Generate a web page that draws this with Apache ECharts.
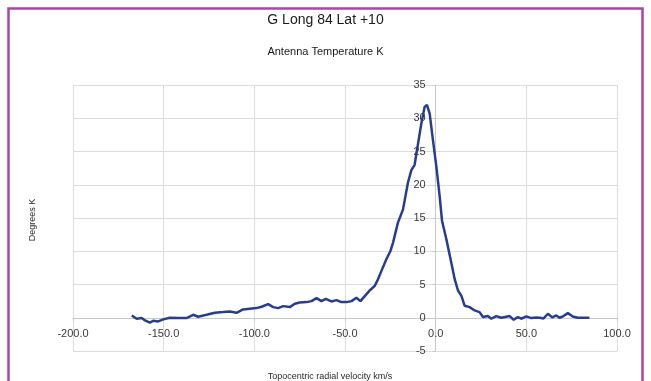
<!DOCTYPE html>
<html><head><meta charset="utf-8">
<script src="https://cdn.jsdelivr.net/npm/echarts@6/dist/echarts.min.js"></script>
<style>html,body{margin:0;padding:0;background:#fff}#c{width:651px;height:381px}</style>
</head><body><div id="c"></div>
<script>
const titleText = "G Long 84 Lat +10";
const subtitleText = "Antenna Temperature K";
const xAxisTitle = "Topocentric radial velocity km/s";
const yAxisTitle = "Degrees K";
const xTicks = [-200, -150, -100, -50, 0, 50, 100];
const yTicks = [-5, 0, 5, 10, 15, 20, 25, 30, 35];

const velocity = [-167.6,-164.9,-162.1,-160.3,-157.6,-155.8,-153,-150.2,-146.6,-142,-137.4,-133.7,-131,-126.3,-121.8,-117.2,-113.5,-109.8,-106.2,-102.5,-98.8,-96,-92.4,-89.6,-86.9,-84.1,-80.4,-77.7,-75,-71.2,-68.5,-65.7,-63,-60.6,-57.5,-54.7,-52,-49.2,-46.4,-43.7,-41.5,-39.1,-36.4,-33.6,-31.8,-29.9,-27.2,-25,-23.5,-20.8,-18,-15.3,-13.4,-11.6,-9.7,-7.9,-6.1,-4.8,-3.3,-1.5,0.4,2.2,3.5,5.9,8.6,10.5,12.3,14.2,16,18.7,21.5,24.2,26.1,28.8,30.7,33.4,36.2,38.9,40.8,43,45.3,47.2,50,52.7,55.5,57.3,59.5,61.9,64.3,66.5,68.3,70.5,72.9,75.6,78.4,84.8];
const temperature = [0.35,-0.15,-0.05,-0.4,-0.75,-0.45,-0.55,-0.25,0,-0.05,-0.05,0.45,0.15,0.45,0.75,0.85,0.95,0.75,1.25,1.35,1.45,1.65,2.05,1.6,1.45,1.75,1.6,2.1,2.3,2.35,2.5,2.95,2.5,2.85,2.45,2.65,2.35,2.35,2.5,3.0,2.5,3.25,4.1,4.8,5.8,7.05,8.8,10,11.3,14.3,16.3,20.3,22.2,23,26.2,29.2,31.7,32,30.7,26.7,22.7,18.3,14.6,11.8,8.3,5.8,4.1,3.3,1.8,1.6,1.1,0.85,0.1,0.25,-0.15,0.25,0,0.15,0.25,-0.3,0.1,-0.15,0.2,-0.05,0.05,0,-0.1,0.6,0.05,0.35,0,0.25,0.7,0.2,0,0];

const seriesData = velocity.map((v, i) => [v, temperature[i]]);
const FONT = "'Liberation Sans', Arial, sans-serif";

const W = 651, H = 381;
const gridL = 73, gridR = 34, gridT = 85, gridB = 30;
const gridW = W - gridL - gridR, gridH = H - gridT - gridB;
const xMin = xTicks[0], xMax = xTicks[xTicks.length - 1];
const yMin = yTicks[0], yMax = yTicks[yTicks.length - 1];
// place each axis where the other axis is zero (Excel-style crossing axes)
const xAxisOffset = -((0 - yMin) / (yMax - yMin)) * gridH;
const yAxisOffset = -((0 - xMin) / (xMax - xMin)) * gridW;

const chart = echarts.init(document.getElementById('c'), null, {renderer: 'canvas'});
chart.setOption({
  backgroundColor: '#ffffff',
  animation: false,
  title: [
    {text: titleText, left: 'center', top: 8, textStyle: {fontFamily: FONT, fontSize: 14, fontWeight: 'normal', color: '#1a1a1a'}},
    {text: subtitleText, left: 'center', top: 41, textStyle: {fontFamily: FONT, fontSize: 11, fontWeight: 'normal', color: '#1a1a1a'}}
  ],
  grid: {left: gridL, right: gridR, top: gridT, bottom: gridB},
  xAxis: {
    type: 'value', min: xMin, max: xMax, interval: 50, position: 'bottom', offset: xAxisOffset,
    axisLine: {show: true, onZero: false, lineStyle: {color: '#c8c8c8', width: 1}},
    axisTick: {show: true, length: 3, lineStyle: {color: '#c8c8c8'}},
    axisLabel: {margin: 11, fontFamily: FONT, fontSize: 11, color: '#3a3a3a', formatter: v => v.toFixed(1)},
    splitLine: {show: true, lineStyle: {color: '#dcdcdc', width: 1}}
  },
  yAxis: {
    type: 'value', min: yMin, max: yMax, interval: 5, position: 'left', offset: yAxisOffset,
    axisLine: {show: true, onZero: false, lineStyle: {color: '#c8c8c8', width: 1}},
    axisTick: {show: true, length: 3, lineStyle: {color: '#c8c8c8'}},
    axisLabel: {margin: 10, fontFamily: FONT, fontSize: 11, color: '#3a3a3a'},
    splitLine: {show: true, lineStyle: {color: '#dcdcdc', width: 1}}
  },
  series: [{
    type: 'line', data: seriesData, showSymbol: false, symbol: 'none',
    lineStyle: {color: '#293d8e', width: 2.5}, smooth: false
  }],
  graphic: [
    {type: 'rect', shape: {x: 8.5, y: 8.5, width: 634, height: 400}, style: {fill: 'none', stroke: '#a946a8', lineWidth: 2.5}, silent: true, z: 100},
    {type: 'text', x: 33, y: 220, rotation: Math.PI / 2, style: {text: yAxisTitle, font: '9px ' + FONT, fill: '#2a2a2a', textAlign: 'center', textVerticalAlign: 'middle'}},
    {type: 'text', x: 330, y: 377, style: {text: xAxisTitle, font: '9px ' + FONT, fill: '#2a2a2a', textAlign: 'center', textVerticalAlign: 'middle'}}
  ]
});
</script></body></html>
